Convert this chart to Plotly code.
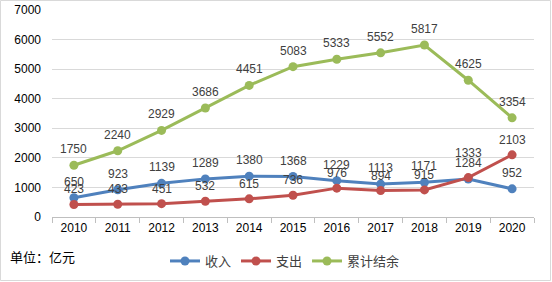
import plotly.graph_objects as go

years = ["2010", "2011", "2012", "2013", "2014", "2015", "2016", "2017", "2018", "2019", "2020"]
income = [650, 923, 1139, 1289, 1380, 1368, 1229, 1113, 1171, 1284, 952]
expense = [423, 433, 451, 532, 615, 736, 976, 894, 915, 1333, 2103]
balance = [1750, 2240, 2929, 3686, 4451, 5083, 5333, 5552, 5817, 4625, 3354]
y_ticks = [0, 1000, 2000, 3000, 4000, 5000, 6000, 7000]

# label pixel offsets above each point (style only)
income_shift = [16, 16, 16, 16, 16, 16, 16, 16, 16, 16, 16]
expense_shift = [15, 15, 15, 15, 15, 15, 15, 15, 15, 25, 15]
balance_shift = [16, 16, 16, 16, 16, 16, 16, 16, 16, 16, 16]

series = [
    ("收入", income, "#4F81BD", income_shift),
    ("支出", expense, "#C0504D", expense_shift),
    ("累计结余", balance, "#9BBB59", balance_shift),
]

fig = go.Figure()
annotations = []
for name, vals, color, shifts in series:
    fig.add_trace(go.Scatter(
        x=years, y=vals, name=name,
        mode="lines+markers",
        line=dict(color=color, width=3),
        marker=dict(color=color, size=9),
        cliponaxis=False,
    ))
    for i, (yv, s) in enumerate(zip(vals, shifts)):
        annotations.append(dict(
            x=i, y=yv, xref="x", yref="y", text=str(yv),
            showarrow=False, yshift=s, yanchor="middle", xanchor="center",
            font=dict(family="Liberation Sans", size=12, color="#404040"),
        ))

L, R, T, B = 52, 18, 10, 65
W, H = 552, 282
pw, ph = W - L - R, H - T - B

def px2x(p):
    return (p - L) / pw

def px2y(p):
    return (H - B - p) / ph

annotations.append(dict(
    text="单位：亿元", xref="paper", yref="paper",
    x=px2x(8), y=px2y(256), xanchor="left", yanchor="middle",
    showarrow=False,
    font=dict(family="Noto Sans CJK SC", size=13, color="#000000"),
))

fig.update_layout(
    width=W, height=H,
    margin=dict(l=L, r=R, t=T, b=B, autoexpand=False),
    paper_bgcolor="white", plot_bgcolor="white",
    font=dict(family="Liberation Sans", size=12, color="#000000"),
    showlegend=True,
    legend=dict(
        orientation="h", xref="container", yref="container",
        x=285 / W, y=1 - 261 / H,
        xanchor="center", yanchor="middle",
        font=dict(family="Noto Sans CJK SC", size=13, color="#404040"),
        traceorder="normal",
    ),
    xaxis=dict(
        type="category", range=[-0.5, 10.5],
        showgrid=False, showline=True, linecolor="#bfbfbf", linewidth=1,
        ticks="outside", ticklen=5, tickcolor="#bfbfbf",
        tickson="boundaries", automargin=False,
        tickfont=dict(family="Liberation Sans", size=12, color="#000000"),
        fixedrange=True,
    ),
    yaxis=dict(
        range=[0, 7000], tickvals=y_ticks,
        showgrid=True, gridcolor="#d9d9d9", gridwidth=1,
        showline=False, zeroline=False, automargin=False,
        ticklabelstandoff=10,
        tickfont=dict(family="Liberation Sans", size=12, color="#000000"),
        fixedrange=True,
    ),
    shapes=[dict(
        type="rect", xref="paper", yref="paper",
        x0=px2x(0.5), x1=px2x(550.5), y0=px2y(280.5), y1=px2y(0.5),
        line=dict(color="#d9d9d9", width=1), fillcolor="rgba(0,0,0,0)",
        layer="below",
    )],
    annotations=annotations,
)

fig.write_html(
    "out.html",
    config={"displayModeBar": False},
    post_script="document.body.style.margin='0';document.body.style.overflow='hidden';",
)
